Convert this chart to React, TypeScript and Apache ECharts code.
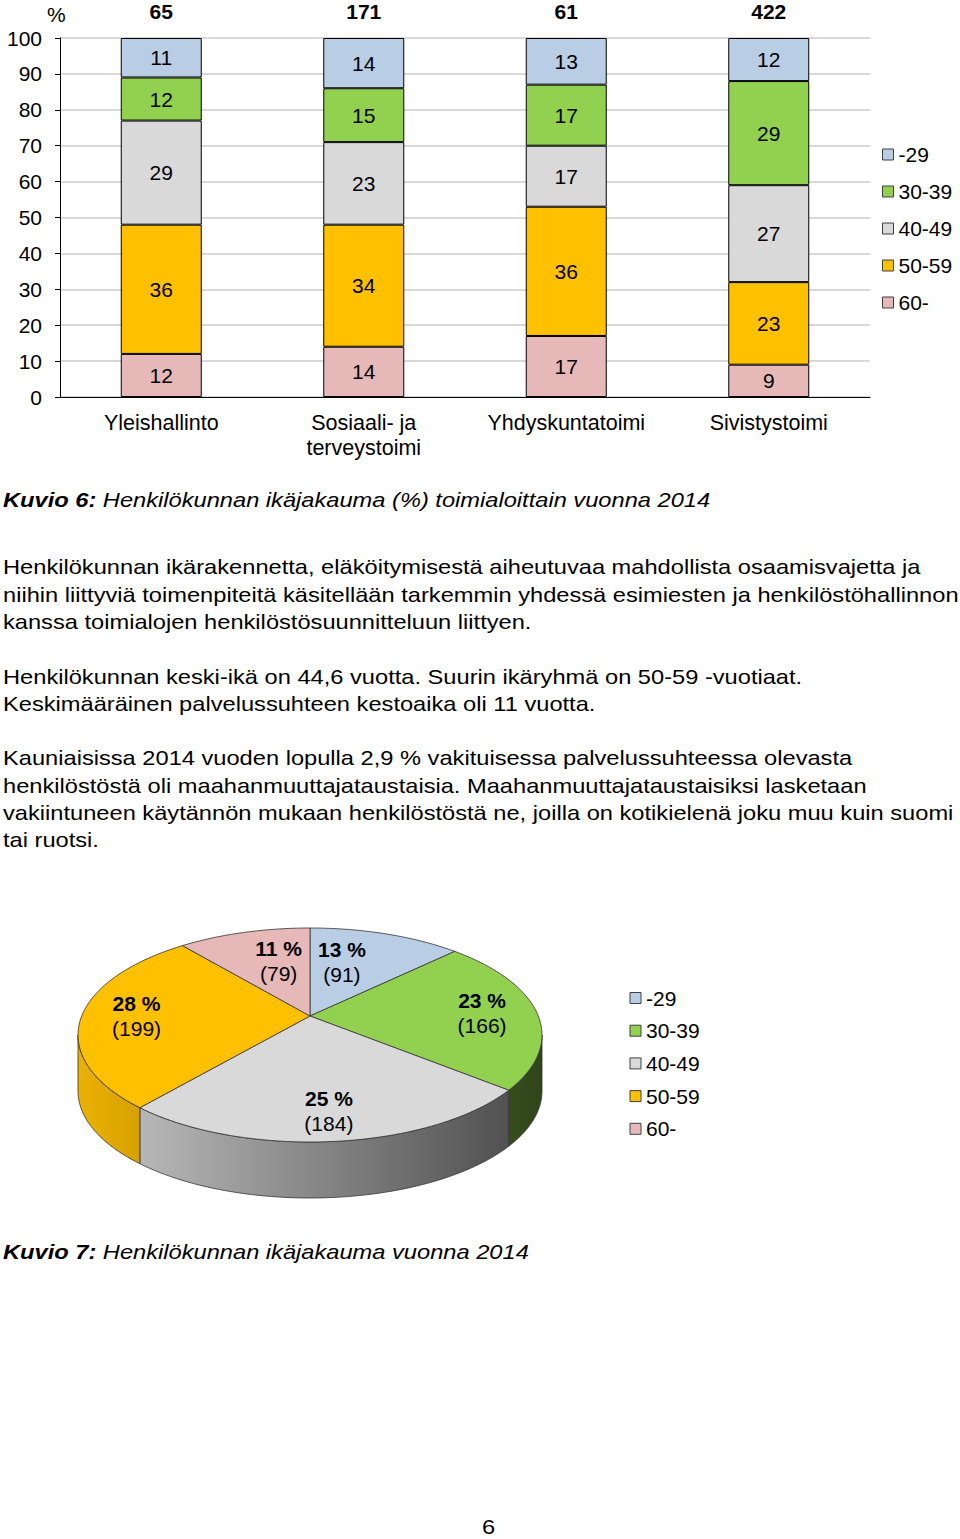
import { useEffect, useRef } from 'react'
import * as echarts from 'echarts'

const FONT = "'Liberation Sans', Arial, sans-serif"

// bar chart: share (%) of each age group per department
const categories = ['Yleishallinto', 'Sosiaali- ja\nterveystoimi', 'Yhdyskuntatoimi', 'Sivistystoimi']
const totals = [65, 171, 61, 422]
const ageGroups = ['-29', '30-39', '40-49', '50-59', '60-']
const under29 = [11, 14, 13, 12]
const age30to39 = [12, 15, 17, 29]
const age40to49 = [29, 23, 17, 27]
const age50to59 = [36, 34, 36, 23]
const over60 = [12, 14, 17, 9]

// pie chart: head count and share by age group
const pieCounts = [91, 166, 184, 199, 79]
const piePercents = [13, 23, 25, 28, 11]

const COLORS = ['#b9cde5', '#92d050', '#d9d9d9', '#ffc000', '#e6b9b8']

const shade = (hex: string, f: number) => {
  const n = parseInt(hex.slice(1), 16)
  const c = [(n >> 16) & 255, (n >> 8) & 255, n & 255].map((v) => Math.round(v * f))
  return `rgb(${c.join(',')})`
}

// pseudo-3D pie geometry (inside the pie div)
const CX = 310
const CY = 135
const RX = 232
const RY = 107
const APEX = [310, 116]
const DEPTH = 56
const warp = (t: number) => t - 0.17 * Math.sin(t)
const rim = (phi: number, dy = 0) => [CX + RX * Math.sin(phi), CY - RY * Math.cos(phi) + dy]

const pieTotal = pieCounts.reduce((s, v) => s + v, 0)
const pieStarts: number[] = []
const pieEnds: number[] = []
pieCounts.reduce((acc, v) => {
  pieStarts.push((acc / pieTotal) * Math.PI * 2)
  pieEnds.push(((acc + v) / pieTotal) * Math.PI * 2)
  return acc + v
}, 0)

function BarChart() {
  const ref = useRef<HTMLDivElement | null>(null)
  useEffect(() => {
    if (!ref.current) return
    const chart = echarts.init(ref.current, undefined, { renderer: 'svg' })
    const stackOrder = [
      { name: '60-', data: over60, color: COLORS[4] },
      { name: '50-59', data: age50to59, color: COLORS[3] },
      { name: '40-49', data: age40to49, color: COLORS[2] },
      { name: '30-39', data: age30to39, color: COLORS[1] },
      { name: '-29', data: under29, color: COLORS[0] },
    ]
    chart.setOption({
      animation: false,
      textStyle: { fontFamily: FONT },
      grid: { left: 60, right: 90, top: 38, bottom: 73, outerBoundsMode: 'none', containLabel: false },
      legend: {
        orient: 'vertical',
        left: 877,
        top: 139,
        itemWidth: 11,
        itemHeight: 11,
        itemGap: 16,
        itemTextGap: 4,
        icon: 'rect',
        selectedMode: false,
        data: ageGroups,
        textStyle: { fontSize: 21, color: '#000', fontFamily: FONT },
        itemStyle: { borderColor: '#404040', borderWidth: 1 },
      },
      xAxis: [
        {
          type: 'category',
          data: categories,
          axisLine: { lineStyle: { color: '#000', width: 1 } },
          axisTick: { length: 6, lineStyle: { color: '#000' } },
          axisLabel: { fontSize: 21.5, lineHeight: 25, margin: 13, color: '#000', interval: 0 },
        },
        {
          type: 'category',
          position: 'top',
          data: totals.map(String),
          axisLine: { show: false },
          axisTick: { show: false },
          axisLabel: { fontSize: 21, lineHeight: 18, fontWeight: 'bold', color: '#000', margin: 18, interval: 0 },
        },
      ],
      yAxis: {
        type: 'value',
        min: 0,
        max: 100,
        interval: 10,
        axisLine: { show: true, lineStyle: { color: '#000' } },
        axisTick: { show: true, length: 5, lineStyle: { color: '#000' } },
        axisLabel: { fontSize: 21, color: '#000', margin: 18 },
        splitLine: { lineStyle: { color: '#d9d9d9', width: 2 } },
      },
      graphic: [
        { type: 'text', left: 47, top: 4, style: { text: '%', fontSize: 21, fill: '#000', fontFamily: FONT } },
      ],
      series: stackOrder.map((s) => ({
        name: s.name,
        type: 'bar',
        stack: 'share',
        barWidth: 81,
        data: s.data,
        itemStyle: { color: s.color, borderColor: '#000', borderWidth: 1 },
        label: { show: true, position: 'inside', fontSize: 21, color: '#000', fontFamily: FONT },
        emphasis: { disabled: true },
      })),
    })
    return () => chart.dispose()
  }, [])
  return <div ref={ref} style={{ position: 'absolute', left: 0, top: 0, width: 960, height: 470 }} />
}

function PieChart() {
  const ref = useRef<HTMLDivElement | null>(null)
  useEffect(() => {
    if (!ref.current) return
    const chart = echarts.init(ref.current, undefined, { renderer: 'svg' })
    const arc = (a: number, b: number, dy = 0) => {
      const pts: number[][] = []
      const n = Math.max(4, Math.ceil((b - a) / 0.03))
      for (let k = 0; k <= n; k++) pts.push(rim(a + ((b - a) * k) / n, dy))
      return pts
    }
    // label position: big slices along the mid radius, narrow ones hug their vertical edge
    const labelPos = (i: number) => {
      const mid = rim(warp((pieStarts[i] + pieEnds[i]) / 2))
      if (pieCounts[i] / pieTotal >= 0.15) {
        const f = 0.76
        return { x: APEX[0] + f * (mid[0] - APEX[0]), y: APEX[1] + f * (mid[1] - APEX[1]), align: 'center' }
      }
      const y = APEX[1] + 0.66 * (mid[1] - APEX[1])
      const right = mid[0] > APEX[0]
      return { x: APEX[0] + (right ? 8 : -8), y, align: right ? 'left' : 'right' }
    }
    chart.setOption({
      animation: false,
      textStyle: { fontFamily: FONT },
      series: [
        {
          type: 'custom',
          coordinateSystem: 'none',
          z: 2,
          data: pieCounts,
          silent: true,
          renderItem: (params: any) => {
            const i = params.dataIndex
            const a = Math.max(warp(pieStarts[i]), Math.PI / 2)
            const b = Math.min(warp(pieEnds[i]), (Math.PI * 3) / 2)
            if (a >= b) return { type: 'group', children: [] }
            const pts = [...arc(a, b), ...arc(a, b, DEPTH).reverse()]
            return {
              type: 'polygon',
              shape: { points: pts },
              style: {
                fill: new echarts.graphic.LinearGradient(
                  CX - RX, 0, CX + RX, 0,
                  [
                    { offset: 0, color: shade(COLORS[i], 0.92) },
                    { offset: 1, color: shade(COLORS[i], 0.33) },
                  ],
                  true,
                ),
                stroke: '#333',
                lineWidth: 0.8,
              },
            }
          },
        },
        {
          type: 'custom',
          coordinateSystem: 'none',
          z: 3,
          data: pieCounts,
          silent: true,
          renderItem: (params: any) => {
            const i = params.dataIndex
            const a = warp(pieStarts[i])
            const b = warp(pieEnds[i])
            const lp = labelPos(i)
            return {
              type: 'group',
              children: [
                {
                  type: 'polygon',
                  shape: { points: [APEX, ...arc(a, b)] },
                  style: { fill: COLORS[i], stroke: '#333', lineWidth: 0.8 },
                },
                {
                  type: 'text',
                  x: lp.x,
                  y: lp.y,
                  style: {
                    text: `{b|${piePercents[i]} %}\n{n|(${pieCounts[i]})}`,
                    align: lp.align,
                    verticalAlign: 'middle',
                    rich: {
                      b: { fontSize: 21, fontWeight: 'bold', lineHeight: 25, fill: '#000', fontFamily: FONT, align: 'center' },
                      n: { fontSize: 21, lineHeight: 25, fill: '#000', fontFamily: FONT, align: 'center' },
                    },
                  },
                },
              ],
            }
          },
        },
      ],
      graphic: ageGroups.flatMap((g, i) => [
        {
          type: 'rect',
          shape: { x: 630, y: 92.5 + i * 32.7, width: 11, height: 11 },
          style: { fill: COLORS[i], stroke: '#404040', lineWidth: 1 },
        },
        {
          type: 'text',
          x: 646,
          y: 98 + i * 32.7,
          style: { text: g, fontSize: 21, fill: '#000', verticalAlign: 'middle', fontFamily: FONT },
        },
      ]),
    })
    return () => chart.dispose()
  }, [])
  return <div ref={ref} style={{ position: 'absolute', left: 0, top: 900, width: 960, height: 320 }} />
}

// the page text is set slightly wider than plain Arial
const Line = ({ y, children, x = 3 }: { y: number; x?: number; children: any }) => (
  <div
    style={{
      position: 'absolute',
      left: x,
      top: y - 14,
      lineHeight: '28px',
      fontSize: 21,
      whiteSpace: 'nowrap',
      transform: 'scaleX(1.126)',
      transformOrigin: '0 0',
    }}
  >
    {children}
  </div>
)

export default function App() {
  return (
    <div
      style={{
        position: 'absolute',
        left: 0,
        top: 0,
        width: 960,
        height: 1539,
        background: '#fff',
        color: '#000',
        fontFamily: FONT,
        overflow: 'hidden',
      }}
    >
      <BarChart />
      <Line y={500}>
        <i>
          <b>Kuvio 6:</b> Henkilökunnan ikäjakauma (%) toimialoittain vuonna 2014
        </i>
      </Line>
      <Line y={567}>Henkilökunnan ikärakennetta, eläköitymisestä aiheutuvaa mahdollista osaamisvajetta ja</Line>
      <Line y={595}>niihin liittyviä toimenpiteitä käsitellään tarkemmin yhdessä esimiesten ja henkilöstöhallinnon</Line>
      <Line y={622}>kanssa toimialojen henkilöstösuunnitteluun liittyen.</Line>
      <Line y={677}>Henkilökunnan keski-ikä on 44,6 vuotta. Suurin ikäryhmä on 50-59 -vuotiaat.</Line>
      <Line y={704}>Keskimääräinen palvelussuhteen kestoaika oli 11 vuotta.</Line>
      <Line y={758}>Kauniaisissa 2014 vuoden lopulla 2,9 % vakituisessa palvelussuhteessa olevasta</Line>
      <Line y={786}>henkilöstöstä oli maahanmuuttajataustaisia. Maahanmuuttajataustaisiksi lasketaan</Line>
      <Line y={813}>vakiintuneen käytännön mukaan henkilöstöstä ne, joilla on kotikielenä joku muu kuin suomi</Line>
      <Line y={840}>tai ruotsi.</Line>
      <PieChart />
      <Line y={1252}>
        <i>
          <b>Kuvio 7:</b> Henkilökunnan ikäjakauma vuonna 2014
        </i>
      </Line>
      <Line y={1527} x={482}>
        6
      </Line>
    </div>
  )
}
